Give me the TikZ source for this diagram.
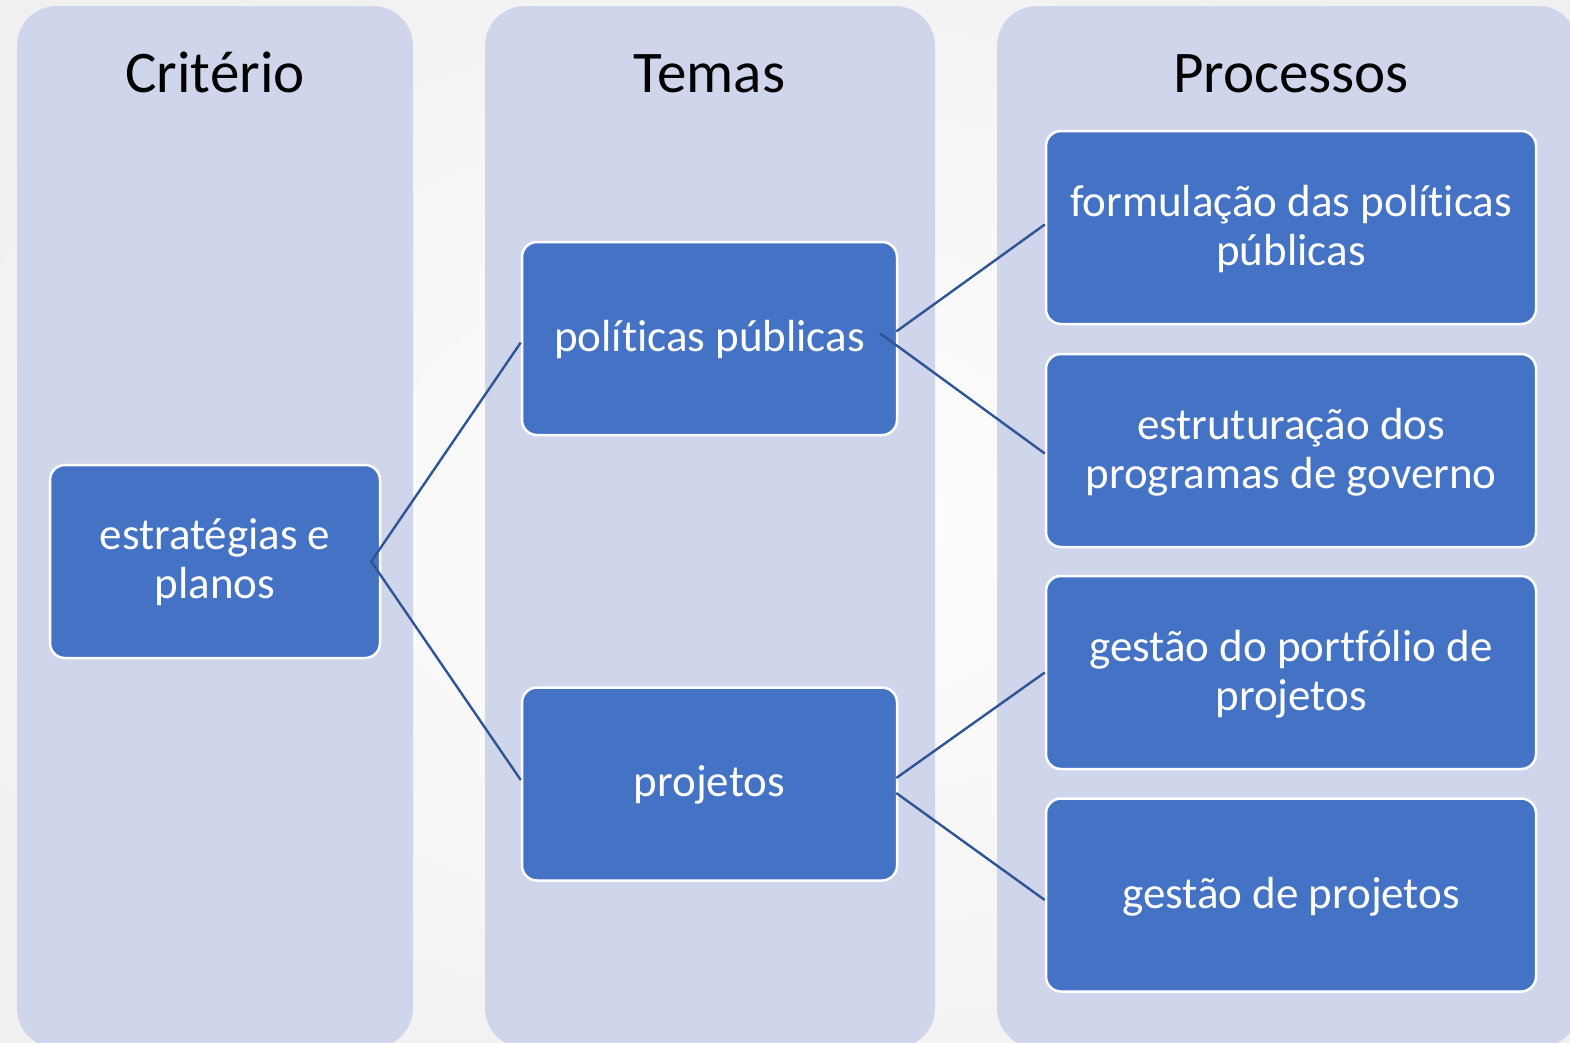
\documentclass[tikz,border=0pt]{standalone}
\usepackage{fontspec}
\setmainfont{Carlito}[Ligatures=NoCommon]
\usetikzlibrary{calc}
\definecolor{colfill}{HTML}{CFD5EA}
\definecolor{boxfill}{HTML}{4472C4}
\definecolor{linkcol}{HTML}{2F5597}
\newcommand{\myti}{t\kern0pt i}
\tikzset{
  column/.style={fill=colfill, rounded corners=40pt},
  header/.style={anchor=base, text=black, font=\fontsize{59}{70}\selectfont},
  itembox/.style={draw=white, line width=2.5pt, fill=boxfill, rounded corners=15pt,
    text=white, align=center, inner sep=0pt, text depth=5pt,
    font=\fontsize{45}{49}\selectfont, minimum height=193pt},
  link/.style={draw=linkcol, line width=2.4pt},
}
\begin{document}
\begin{tikzpicture}[x=1pt,y=-1pt]
\useasboundingbox (0,0) rectangle (1570,1042);
\clip (0,0) rectangle (1570,1042);
\shade[inner color=white, outer color=black!6] (-200,-150) rectangle (1770,1192);
% columns
\path[column] (17,6) rectangle (413,1048);
\path[column] (485,6) rectangle (935,1048);
\path[column] (997,6) rectangle (1578,1048);
% headers
\node[header] (h1) at (215,92) {Critério};
\node[header] (h2) at (709.5,92) {Temas};
\node[header] (h3) at (1291,92) {Processos};
% boxes
\node[itembox, minimum width=330pt] (estr) at (215,561.5) {estratégias e\\planos};
\node[itembox, minimum width=375pt] (pol) at (709.5,338.5) {polí\myti cas públicas};
\node[itembox, minimum width=375pt] (proj) at (709.5,784) {projetos};
\node[itembox, minimum width=490pt] (f1) at (1291,227.5) {formulação das polí\myti cas\\públicas};
\node[itembox, minimum width=490pt] (f2) at (1291,450.5) {estruturação dos\\programas de governo};
\node[itembox, minimum width=490pt] (f3) at (1291,672.5) {gestão do portfólio de\\projetos};
\node[itembox, minimum width=490pt] (f4) at (1291,895) {gestão de projetos};
% connectors
\coordinate (ev) at ($(estr.east)+(-10,0)$);
\draw[link] ($(pol.west)+(0,4)$) -- (ev) -- ($(proj.west)+(0,-4)$);
\draw[link] ($(pol.east)+(-2,-7)$) -- ($(f1.west)+(0,-3)$);
\draw[link] ($(pol.east)+(-18,-5)$) -- ($(f2.west)+(0,3)$);
\draw[link] ($(proj.east)+(-2,-6)$) -- (f3.west);
\draw[link] ($(proj.east)+(-2,9)$) -- ($(f4.west)+(0,5)$);
\end{tikzpicture}
\end{document}
